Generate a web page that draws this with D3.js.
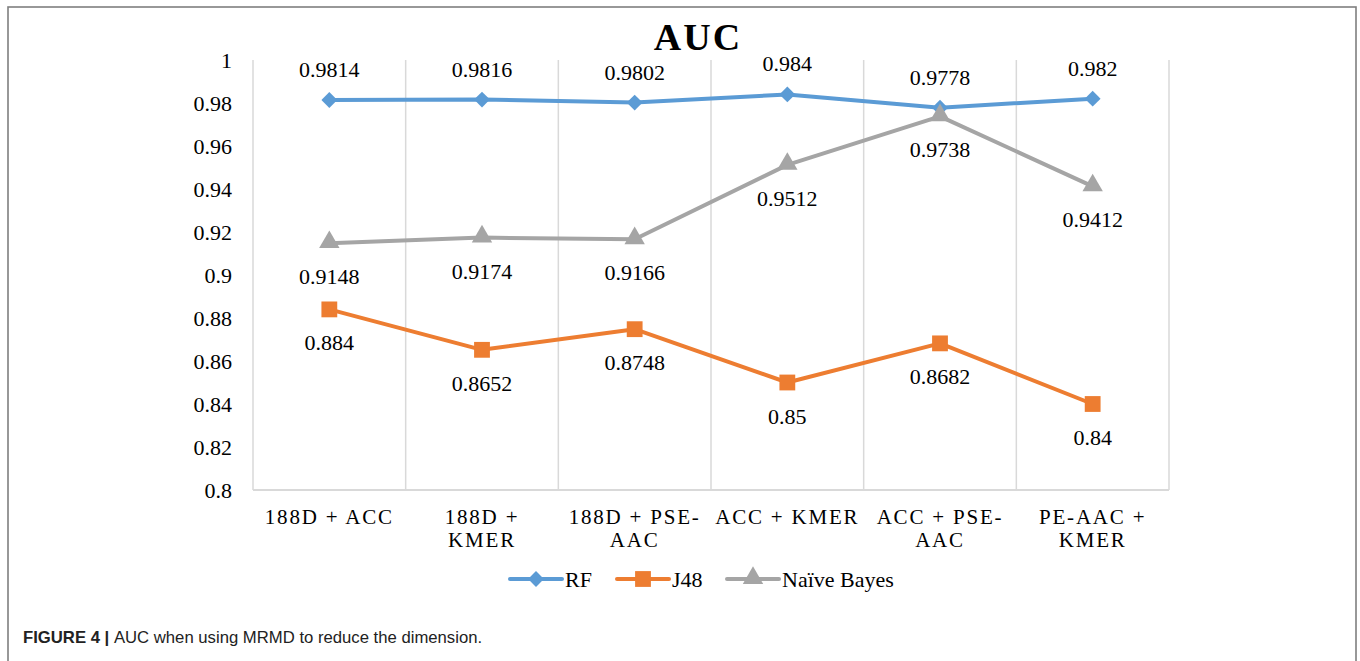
<!DOCTYPE html>
<html>
<head>
<meta charset="utf-8">
<script src="https://cdn.jsdelivr.net/npm/d3@7"></script>
<style>
  html, body { margin: 0; padding: 0; background: #fff; }
  svg { display: block; }
</style>
</head>
<body>
<svg id="chart" width="1360" height="661"></svg>
<script>
// Feature combinations on the x axis
const categories = ["188D + ACC", "188D + KMER", "188D + PSE-AAC", "ACC + KMER", "ACC + PSE-AAC", "PE-AAC + KMER"];
// Tick labels as they wrap under each category
const tickLines = [
  ["188D + ACC"],
  ["188D +", "KMER"],
  ["188D + PSE-", "AAC"],
  ["ACC + KMER"],
  ["ACC + PSE-", "AAC"],
  ["PE-AAC +", "KMER"]
];
// AUC per classifier
const rfValues  = [0.9814, 0.9816, 0.9802, 0.984, 0.9778, 0.982];
const j48Values = [0.884, 0.8652, 0.8748, 0.85, 0.8682, 0.84];
const nbValues  = [0.9148, 0.9174, 0.9166, 0.9512, 0.9738, 0.9412];
const yTicks = [0.8, 0.82, 0.84, 0.86, 0.88, 0.9, 0.92, 0.94, 0.96, 0.98, 1];

const series = [
  { name: "RF", values: rfValues, color: "#5B9BD5", marker: "diamond", labelPos: "above" },
  { name: "J48", values: j48Values, color: "#ED7D31", marker: "square", labelPos: "below" },
  { name: "Naïve Bayes", values: nbValues, color: "#A5A5A5", marker: "triangle", labelPos: "below" }
];

const serif = "'Liberation Serif', 'Times New Roman', serif";
const svg = d3.select("#chart");

// outer frame
svg.append("rect")
  .attr("x", 8).attr("y", 7).attr("width", 1348).attr("height", 680)
  .attr("fill", "none").attr("stroke", "#7f7f7f").attr("stroke-width", 1.6);

const x = d3.scaleBand().domain(categories).range([253, 1169]).padding(0);
const y = d3.scaleLinear().domain([0.8, 1]).range([490, 60]);
const cx = c => x(c) + x.bandwidth() / 2;

// vertical gridlines at category boundaries
const bounds = categories.map(c => x(c)).concat([x.range()[1]]);
svg.append("g").selectAll("line").data(bounds).join("line")
  .attr("x1", d => d).attr("x2", d => d)
  .attr("y1", y(1)).attr("y2", y(0.8))
  .attr("stroke", "#d9d9d9").attr("stroke-width", 1.5);

// y axis (labels only)
const yAxis = svg.append("g")
  .attr("transform", "translate(253,0)")
  .call(d3.axisLeft(y).tickValues(yTicks).tickSize(0).tickPadding(21).tickFormat(d => d3.format("")(+d.toFixed(2))));
yAxis.attr("font-family", serif);
yAxis.select(".domain").remove();
yAxis.selectAll("text")
  .attr("font-family", serif).attr("font-size", 22).attr("fill", "#000");

// x axis baseline
svg.append("line")
  .attr("x1", 253).attr("x2", 1169).attr("y1", y(0.8)).attr("y2", y(0.8))
  .attr("stroke", "#d9d9d9").attr("stroke-width", 2);

// x tick labels
const xl = svg.append("g");
categories.forEach((c, i) => {
  const t = xl.append("text")
    .attr("x", cx(c)).attr("y", 524)
    .attr("text-anchor", "middle")
    .attr("font-family", serif).attr("font-size", 21)
    .attr("letter-spacing", "1.8px")
    .attr("fill", "#000");
  tickLines[i].forEach((ln, j) => {
    t.append("tspan").attr("x", cx(c)).attr("dy", j === 0 ? 0 : 23).text(ln);
  });
});

// marker shapes
const markerPath = {
  diamond: d3.symbol().type(d3.symbolDiamond2).size(160),
  square: d3.symbol().type(d3.symbolSquare).size(250),
  triangle: d3.symbol().type(d3.symbolTriangle).size(180)
};
function drawMarker(g, type, px, py, color) {
  g.append("path")
    .attr("d", markerPath[type]())
    .attr("transform", `translate(${px},${py - (type === "triangle" ? 1 : 0)})`)
    .attr("fill", color);
}

const line = d3.line().x((d, i) => cx(categories[i])).y(d => y(d));

series.forEach(s => {
  const g = svg.append("g");
  g.append("path")
    .datum(s.values)
    .attr("d", line)
    .attr("fill", "none")
    .attr("stroke", s.color)
    .attr("stroke-width", 4)
    .attr("stroke-linejoin", "round");
  s.values.forEach((v, i) => drawMarker(g, s.marker, cx(categories[i]), y(v), s.color));
});

// value labels
series.forEach(s => {
  svg.append("g").selectAll("text").data(s.values).join("text")
    .attr("x", (d, i) => cx(categories[i]))
    .attr("y", d => y(d) + (s.labelPos === "above" ? -23 : 41))
    .attr("text-anchor", "middle")
    .attr("font-family", serif).attr("font-size", 22)
    .attr("fill", "#000")
    .text(d => String(d));
});

// title
svg.append("text")
  .attr("x", 698).attr("y", 50)
  .attr("text-anchor", "middle")
  .attr("font-family", serif).attr("font-size", 38).attr("font-weight", "bold")
  .attr("letter-spacing", "2px")
  .text("AUC");

// legend
const legend = [
  { s: series[0], x0: 510, tx: 565 },
  { s: series[1], x0: 617, tx: 672 },
  { s: series[2], x0: 727, tx: 782 }
];
const lg = svg.append("g");
legend.forEach(d => {
  lg.append("line")
    .attr("x1", d.x0).attr("x2", d.x0 + 52).attr("y1", 579).attr("y2", 579)
    .attr("stroke", d.s.color).attr("stroke-width", 4).attr("stroke-linecap", "round");
  drawMarker(lg, d.s.marker, d.x0 + 26, 579, d.s.color);
  lg.append("text")
    .attr("x", d.tx).attr("y", 579).attr("dy", "0.35em")
    .attr("font-family", serif).attr("font-size", 22).attr("fill", "#000")
    .text(d.s.name);
});

// caption
const cap = svg.append("text")
  .attr("x", 23).attr("y", 643)
  .attr("font-family", "'Liberation Sans', Arial, sans-serif")
  .attr("font-size", 16.7).attr("fill", "#222");
cap.append("tspan").attr("font-weight", "bold").text("FIGURE 4 | ");
cap.append("tspan").text("AUC when using MRMD to reduce the dimension.");
</script>
</body>
</html>
